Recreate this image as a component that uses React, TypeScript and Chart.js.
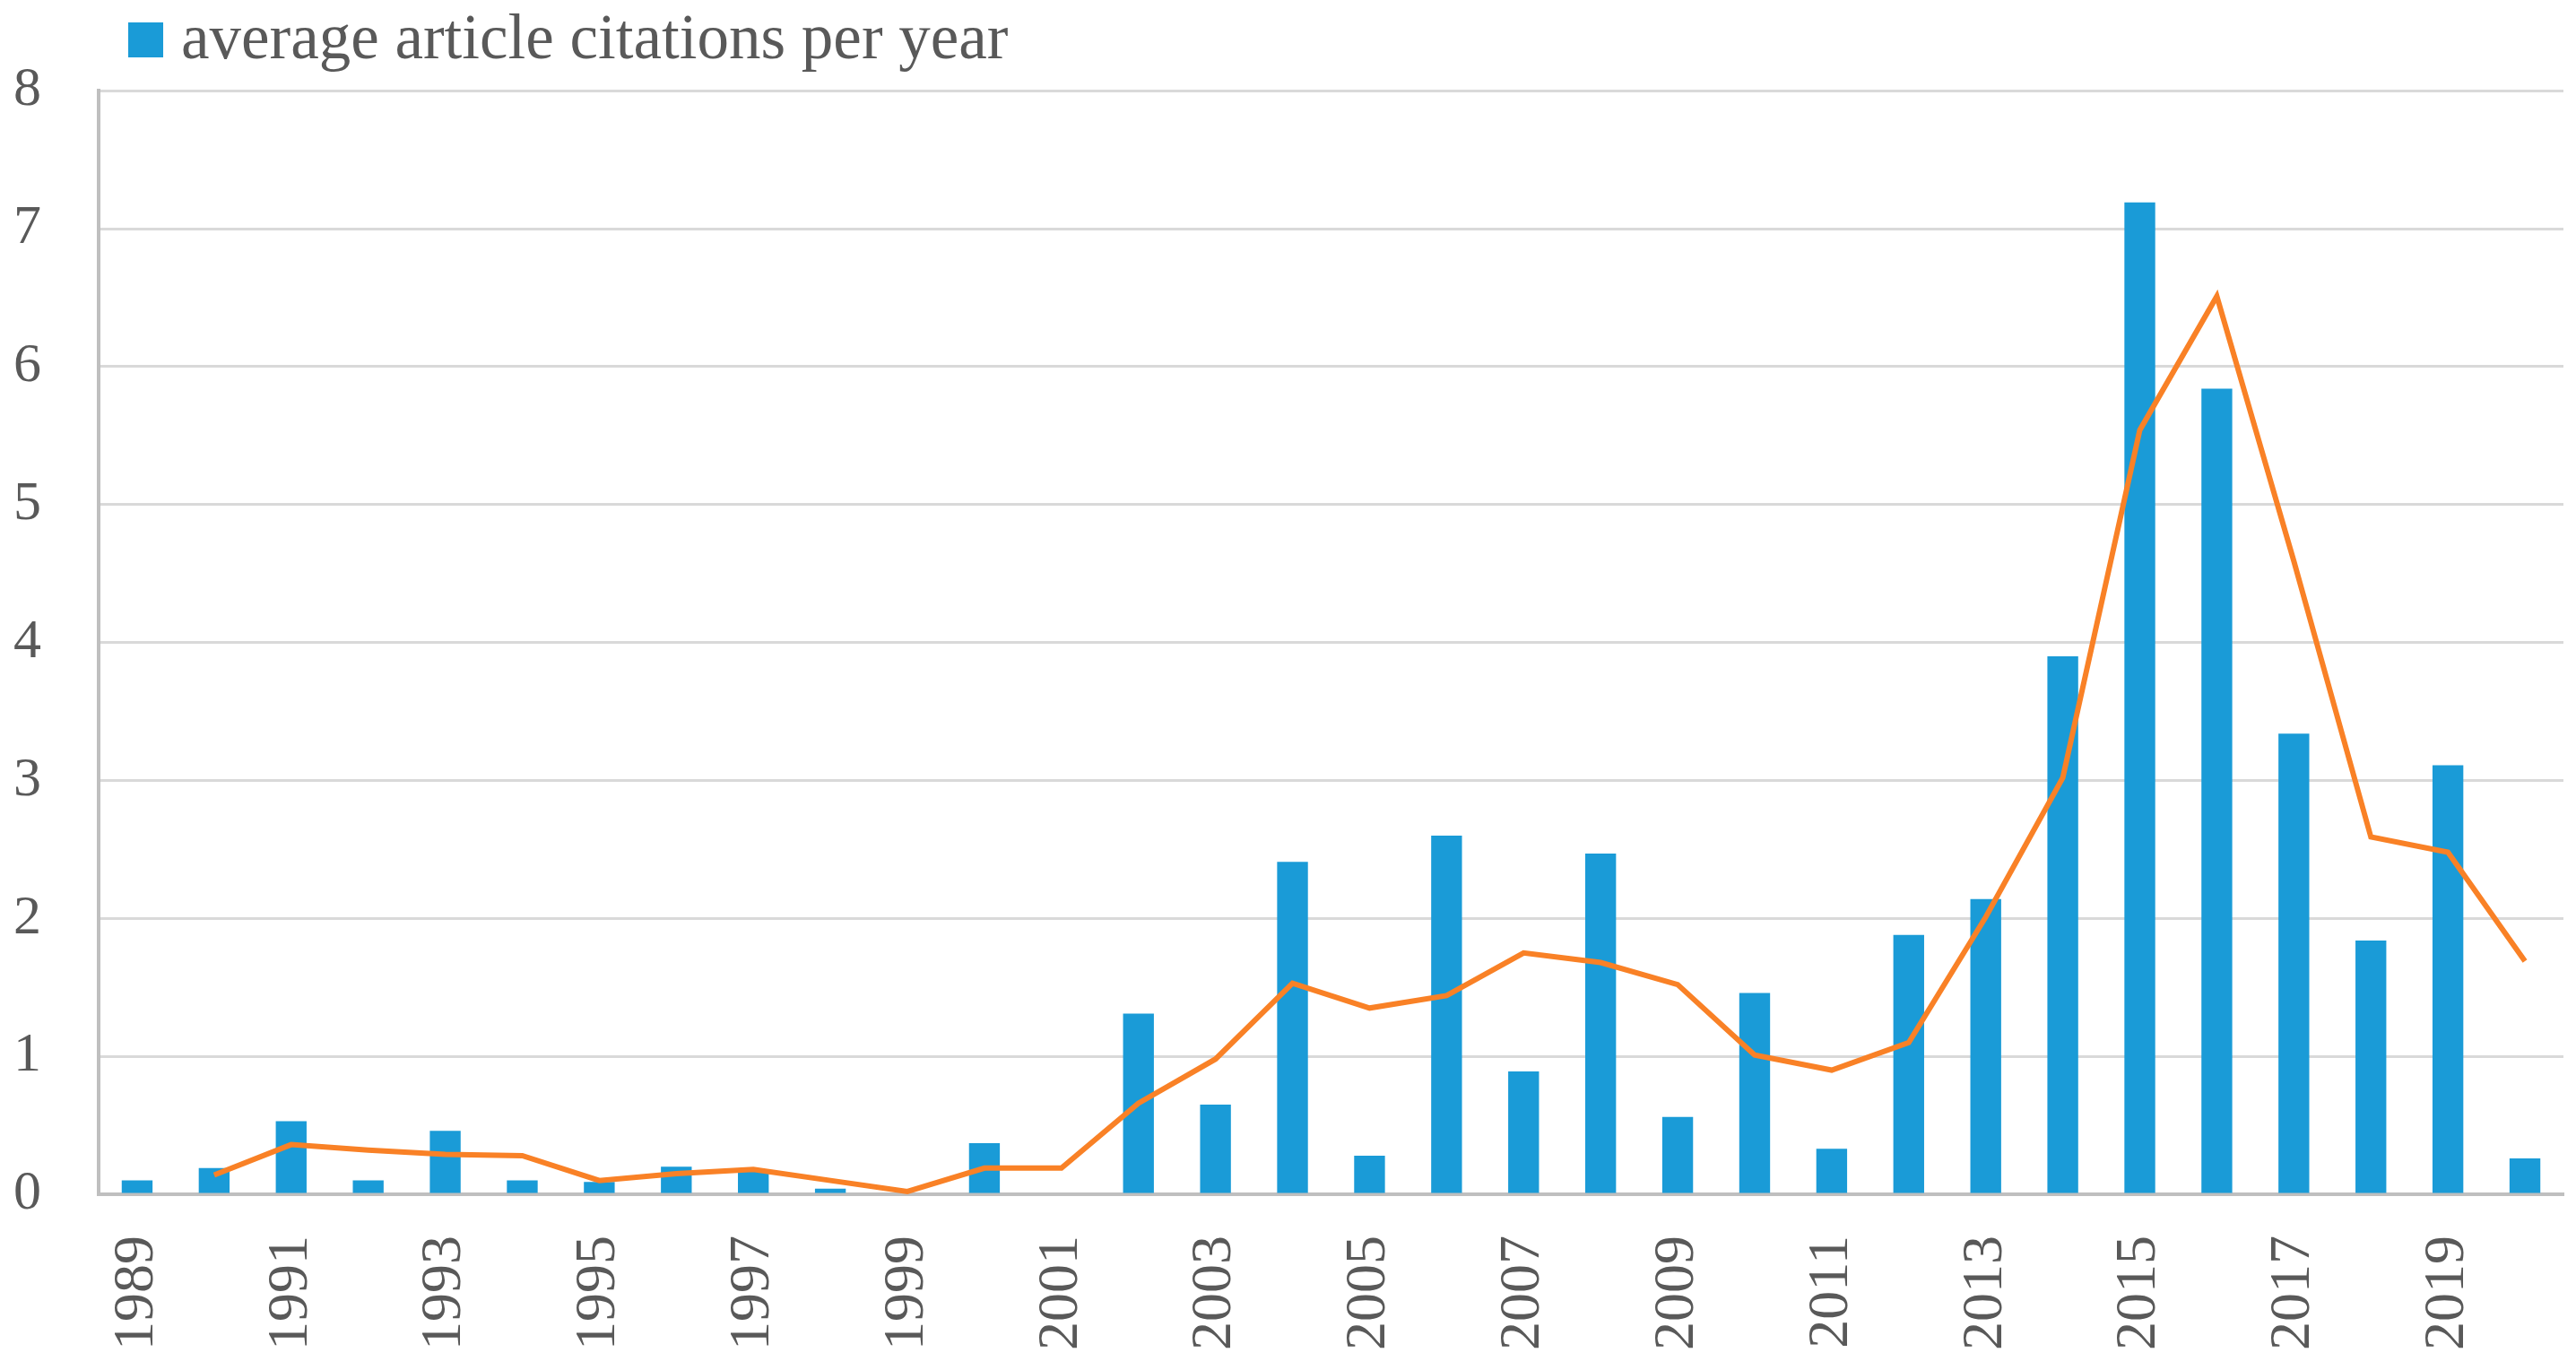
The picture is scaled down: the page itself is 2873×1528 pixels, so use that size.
import React, { useEffect, useRef } from "react";
import { Chart, registerables } from "chart.js";

Chart.register(...registerables);

const years: string[] = [
  "1989", "1990", "1991", "1992", "1993", "1994", "1995", "1996", "1997", "1998",
  "1999", "2000", "2001", "2002", "2003", "2004", "2005", "2006", "2007", "2008",
  "2009", "2010", "2011", "2012", "2013", "2014", "2015", "2016", "2017", "2018",
  "2019", "2020",
];

const citations: number[] = [
  0.1, 0.19, 0.53, 0.1, 0.46, 0.1, 0.09, 0.2, 0.17, 0.04,
  0, 0.37, 0, 1.31, 0.65, 2.41, 0.28, 2.6, 0.89, 2.47,
  0.56, 1.46, 0.33, 1.88, 2.14, 3.9, 7.19, 5.84, 3.34, 1.84,
  3.11, 0.26,
];

const movingAvg: (number | null)[] = [
  null, 0.14, 0.36, 0.32, 0.29, 0.28, 0.1, 0.15, 0.18, 0.1,
  0.02, 0.19, 0.19, 0.66, 0.98, 1.53, 1.35, 1.44, 1.75, 1.68,
  1.52, 1.01, 0.9, 1.1, 2.01, 3.02, 5.54, 6.51, 4.59, 2.59,
  2.48, 1.69,
];

const yTicks: number[] = [0, 1, 2, 3, 4, 5, 6, 7, 8];

const legendLabel = "average article citations per year";
const BLUE = "#1A9BD7";
const ORANGE = "#F98126";
const TEXT = "#595959";
const FONT = "'Liberation Serif', 'Times New Roman', serif";

const legendPlugin = {
  id: "customLegend",
  afterDraw(chart: any) {
    const ctx = chart.ctx;
    const ds = chart.data.datasets[0];
    ctx.save();
    ctx.fillStyle = ds.backgroundColor;
    ctx.fillRect(143, 25, 39, 39);
    ctx.fillStyle = TEXT;
    ctx.font = `71px ${FONT}`;
    ctx.textBaseline = "alphabetic";
    ctx.textAlign = "left";
    ctx.fillText(ds.label, 202, 65);
    ctx.restore();
  },
};

export default function App() {
  const ref = useRef<HTMLCanvasElement | null>(null);

  useEffect(() => {
    document.body.style.margin = "0";
    const canvas = ref.current;
    if (!canvas) return;
    const chart = new Chart(canvas, {
      type: "bar",
      data: {
        labels: years,
        datasets: [
          {
            type: "bar",
            label: legendLabel,
            data: citations,
            backgroundColor: BLUE,
            borderWidth: 0,
            barPercentage: 0.4,
            categoryPercentage: 1,
            order: 2,
          },
          {
            type: "line",
            label: "2 per. Mov. Avg.",
            data: movingAvg,
            borderColor: ORANGE,
            backgroundColor: ORANGE,
            borderWidth: 6,
            pointRadius: 0,
            tension: 0,
            fill: false,
            order: 1,
          } as any,
        ],
      },
      options: {
        responsive: false,
        devicePixelRatio: 1,
        animation: false,
        layout: { padding: { left: 12, right: 14, top: 97, bottom: 0 } },
        plugins: {
          legend: { display: false },
          tooltip: { enabled: false },
          title: { display: false },
        },
        scales: {
          x: {
            offset: true,
            grid: { display: false, drawTicks: false },
            border: { display: true, color: "#BFBFBF", width: 4 },
            ticks: {
              autoSkip: false,
              maxRotation: 90,
              minRotation: 90,
              padding: 46,
              color: TEXT,
              font: { family: FONT, size: 64 },
              callback: (_v: any, i: number) => (i % 2 === 0 ? years[i] : ""),
            },
            afterFit: (scale: any) => {
              scale.height = 196;
              scale.paddingLeft = 0;
              scale.paddingRight = 0;
            },
          },
          y: {
            min: yTicks[0],
            max: yTicks[yTicks.length - 1],
            afterBuildTicks: (scale: any) => {
              scale.ticks = yTicks.map((v) => ({ value: v }));
            },
            grid: { color: "#D9D9D9", lineWidth: 3, drawTicks: false },
            border: { display: true, color: "#BFBFBF", width: 4 },
            ticks: {
              padding: 64,
              color: TEXT,
              font: { family: FONT, size: 62 },
            },
            afterFit: (scale: any) => {
              scale.width = 98;
            },
          },
        },
      },
      plugins: [legendPlugin],
    });
    return () => chart.destroy();
  }, []);

  return (
    <div style={{ width: 2873, height: 1528 }}>
      <canvas ref={ref} width={2873} height={1528} style={{ display: "block" }} />
    </div>
  );
}
